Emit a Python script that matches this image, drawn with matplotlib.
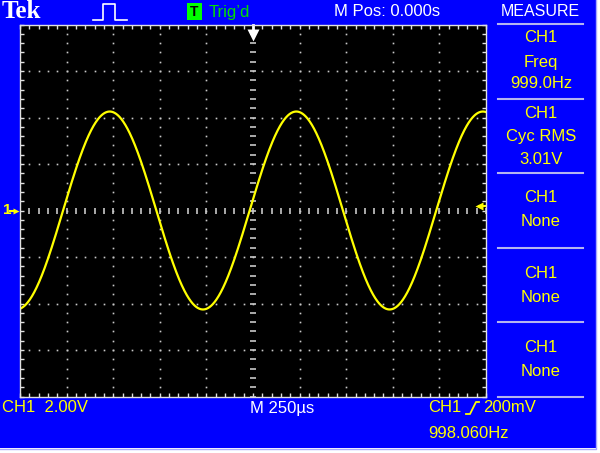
import numpy as np
import matplotlib
matplotlib.use('Agg')
import matplotlib.pyplot as plt
from matplotlib.patches import Rectangle

volts_per_div = 2.00        # V
time_per_div = 0.250        # ms
n_xdiv, n_ydiv = 10, 8
freq_hz = 999.0
rms_v = 3.01
trig_level = 0.200          # V
trig_freq = '998.060Hz'
trace_shift_ms = -0.018     # rising zero crossing sits a little left of centre

meas_src = ['CH1', 'CH1', 'CH1', 'CH1', 'CH1']
meas_name = ['Freq', 'Cyc RMS', 'None', 'None', 'None']
meas_value = ['999.0Hz', '3.01V', '', '', '']

BLUE = '#0000ff'
YEL = '#ffff00'
GRID = '#c8c8c8'
SEP = '#b4b4f0'

plt.rcParams['font.family'] = ['Liberation Sans', 'DejaVu Sans']

fig = plt.figure(figsize=(6.0, 4.53), dpi=100)
fig.patch.set_facecolor('white')

# background panel in pixel coordinates
bg = fig.add_axes([0, 0, 1, 1])
bg.set_xlim(0, 600)
bg.set_ylim(453, 0)
bg.axis('off')
bg.add_patch(Rectangle((0, 0), 596, 448, facecolor=BLUE, edgecolor='none'))
bg.plot([0, 596, 596], [448.5, 448.5, 0], color='#a8a8ff', lw=1)

# top bar
bg.text(2, 12, 'Tek', color='white', fontsize=18, fontweight='bold',
        family='Liberation Serif', va='center', ha='left')
bg.plot([93, 103, 103, 115, 115, 127], [20, 20, 4, 4, 20, 20], color='white', lw=1.2)
bg.add_patch(Rectangle((187, 3), 15, 17, facecolor='#00ff00', edgecolor='none'))
bg.text(194.5, 12, 'T', color='black', fontsize=10, fontweight='bold', ha='center', va='center')
bg.text(209, 12, "Trig\u2019d", color='#00e000', fontsize=12, ha='left', va='center')
bg.text(387, 12, 'M Pos: 0.000s', color='white', fontsize=12, ha='center', va='center')
bg.text(540, 12, 'MEASURE', color='white', fontsize=11.5, ha='center', va='center')

# measurement panel
sep_y = [24, 99, 173, 248, 322, 397]
for y in sep_y:
    bg.plot([498, 583], [y, y], color=SEP, lw=1.5)
for i in range(5):
    y0 = sep_y[i]
    if meas_value[i]:
        rows = [meas_src[i], meas_name[i], meas_value[i]]
        offs = [14, 38, 60]
    else:
        rows = [meas_src[i], meas_name[i]]
        offs = [25, 49]
    for r, o in zip(rows, offs):
        bg.text(541, y0 + o, r, color=YEL, fontsize=12, ha='center', va='center')

# bottom bar
bg.text(2, 408, 'CH1  %.2fV' % volts_per_div, color=YEL, fontsize=12, ha='left', va='center')
bg.text(250, 408, 'M %d\u00b5s' % round(time_per_div * 1000), color='white', fontsize=12,
        ha='left', va='center')
bg.text(428, 408, 'CH1', color=YEL, fontsize=12, ha='left', va='center')
bg.plot([466, 470, 476, 479], [414, 414, 402, 402], color=YEL, lw=1.3)
bg.text(483, 408, '%dmV' % round(trig_level * 1000), color=YEL, fontsize=12, ha='left', va='center')
bg.text(428, 433, trig_freq, color=YEL, fontsize=12, ha='left', va='center')

# ground marker on the left, trigger level marker on the right
bg.text(3, 210.5, '1', color=YEL, fontsize=11, fontweight='bold', ha='left', va='center')
bg.plot([10, 15], [210.5, 210.5], color=YEL, lw=1.5)
bg.plot([16], [210.5], marker='>', color=YEL, ms=5, mec='none')

# screen
scr = fig.add_axes([20 / 600, 1 - 396.5 / 453, 466 / 600, 372 / 453])
scr.set_facecolor('black')
t_half = n_xdiv / 2 * time_per_div
v_half = n_ydiv / 2 * volts_per_div
scr.set_xlim(-t_half, t_half)
scr.set_ylim(-v_half, v_half)

sub_t = np.arange(-t_half, t_half + 1e-9, time_per_div / 5)
sub_v = np.arange(-v_half, v_half + 1e-9, volts_per_div / 5)
scr.set_xticks(sub_t)
scr.set_yticks(sub_v)
scr.tick_params(direction='in', length=3, width=1, color='#e0e0e0',
                labelbottom=False, labelleft=False, top=True, right=True)
for s in scr.spines.values():
    s.set_color('#e0e0e0')
    s.set_linewidth(1)

# dotted graticule
div_t = np.arange(-t_half + time_per_div, t_half - 1e-9, time_per_div)
div_v = np.arange(-v_half + volts_per_div, v_half - 1e-9, volts_per_div)
for x in div_t:
    if abs(x) > 1e-9:
        scr.plot(np.full_like(sub_v, x), sub_v, ls='none', marker='s', ms=1.2, color=GRID, mec='none')
for y in div_v:
    if abs(y) > 1e-9:
        scr.plot(sub_t, np.full_like(sub_t, y), ls='none', marker='s', ms=1.2, color=GRID, mec='none')
# center cross with short dashes
scr.plot(np.zeros_like(sub_v), sub_v, ls='none', marker='_', ms=4, mew=1.2, color=GRID)
scr.plot(sub_t, np.zeros_like(sub_t), ls='none', marker='|', ms=4, mew=1.2, color=GRID)

# trigger position marker
scr.plot([0], [v_half - 0.45], marker='v', color='white', ms=8, mec='none', clip_on=False)
scr.plot([0, 0], [v_half, v_half - 0.3], color='white', lw=2, clip_on=False)

# trigger level marker (right edge)
scr.plot([t_half - 0.04], [trig_level], marker='<', color=YEL, ms=6, mec='none', clip_on=False)
scr.plot([t_half - 0.04, t_half], [trig_level, trig_level], color=YEL, lw=1.5, clip_on=False)

# trace: sine with the measured frequency and RMS
vpk = rms_v * np.sqrt(2)
t = np.linspace(-t_half, t_half, 2000)
v = vpk * np.sin(2 * np.pi * freq_hz * (t - trace_shift_ms) / 1000)
scr.plot(t, v, color=YEL, lw=1.6)

fig.savefig('out.png', dpi=100)
